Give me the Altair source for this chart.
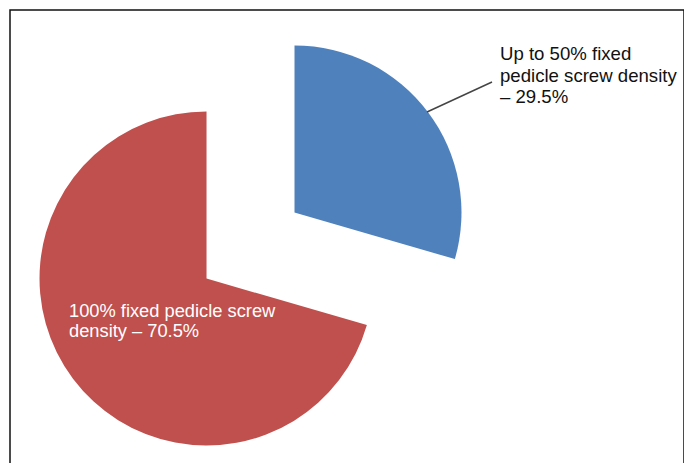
import altair as alt
import pandas as pd
import math

categories = ["Up to 50% fixed pedicle screw density", "100% fixed pedicle screw density"]
values = [29.5, 70.5]
labels = ["Up to 50% fixed\npedicle screw density\n– 29.5%", "100% fixed pedicle screw\ndensity – 70.5%"]
colors = ["#4f81bd", "#c0504d"]
order = [0, 1]

df = pd.DataFrame({"category": categories, "value": values, "label": labels, "order": order})

CX, CY, R, EXPLODE = 240.5, 235.5, 167, 55

base = (
    alt.Chart(df)
    .transform_window(cum="sum(value)", sort=[alt.SortField("order")], frame=[None, 0])
    .transform_calculate(start="datum.cum - datum.value")
)

color = alt.Color("category:N", scale=alt.Scale(domain=categories, range=colors), legend=None)
theta = alt.Theta("start:Q", scale=alt.Scale(domain=[0, 100], range=[0, 2 * math.pi]))

layers = []
for i, cat in enumerate(categories):
    cum_before = sum(values[:i])
    mid = (cum_before + values[i] / 2) / 100 * 2 * math.pi
    dx = EXPLODE * math.sin(mid)
    dy = -EXPLODE * math.cos(mid)
    layers.append(
        base.transform_filter(alt.datum.category == cat)
        .mark_arc(radius=R, x=CX, y=CY, xOffset=dx, yOffset=dy)
        .encode(theta=theta, theta2="cum:Q", color=color)
    )

blue_label = (
    alt.Chart(df[df.order == 0])
    .mark_text(x=490, y=44, align="left", baseline="middle", fontSize=18.6, lineHeight=21.5,
               font="Liberation Sans", color="#111111", lineBreak="\n")
    .encode(text="label:N")
)
red_label = (
    alt.Chart(df[df.order == 1])
    .mark_text(x=59, y=302, align="left", baseline="middle", fontSize=18.3, lineHeight=20,
               font="Liberation Sans", color="#ffffff", lineBreak="\n")
    .encode(text="label:N")
)
leader = (
    alt.Chart(df[df.order == 0])
    .mark_rule(color="#444444", strokeWidth=1.5)
    .encode(x=alt.value(417), y=alt.value(102), x2=alt.value(482), y2=alt.value(72))
)

chart = (
    alt.layer(*layers, leader, blue_label, red_label)
    .properties(width=674, height=470, autosize=alt.AutoSizeParams(type="none"),
                padding={"left": 2, "top": 2, "right": 0, "bottom": 0})
    .configure(background="white")
    .configure_view(stroke="#111111", strokeWidth=1.5)
)

chart.save("out.html", embed_options={"renderer": "svg", "actions": False})
